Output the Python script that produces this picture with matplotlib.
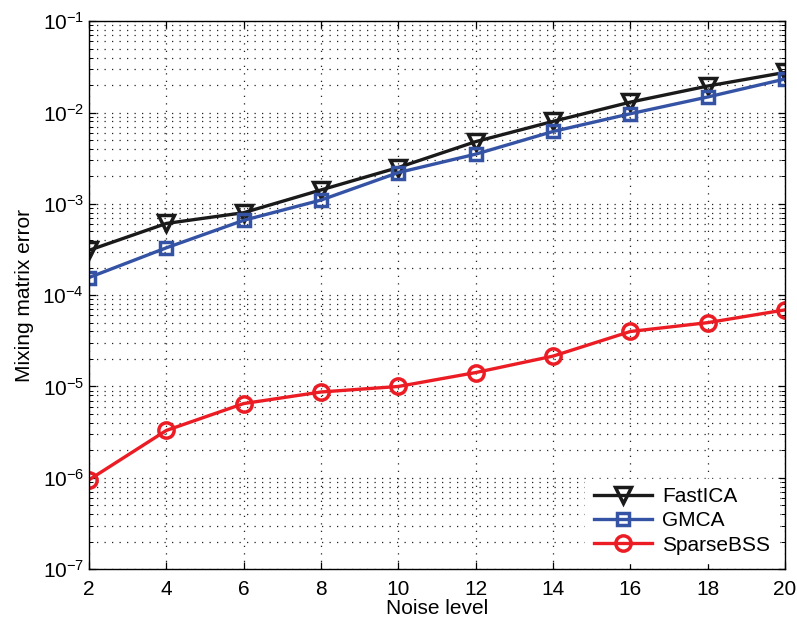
import numpy as np
import matplotlib
matplotlib.use("Agg")
import matplotlib.pyplot as plt
from matplotlib.ticker import LogLocator

plt.rcParams["font.family"] = ["Liberation Sans", "DejaVu Sans"]
plt.rcParams["mathtext.fontset"] = "custom"
plt.rcParams["mathtext.rm"] = "Liberation Sans"
plt.rcParams["mathtext.it"] = "Liberation Sans:italic"

noise_level = [2, 4, 6, 8, 10, 12, 14, 16, 18, 20]

err_fastica = [3.1e-4, 6.1e-4, 8.0e-4, 1.42e-3, 2.5e-3, 4.8e-3, 8.0e-3, 1.3e-2, 1.95e-2, 2.75e-2]
err_gmca = [1.56e-4, 3.3e-4, 6.6e-4, 1.1e-3, 2.2e-3, 3.5e-3, 6.2e-3, 9.7e-3, 1.48e-2, 2.33e-2]
err_sparsebss = [9.5e-7, 3.3e-6, 6.5e-6, 8.7e-6, 1.0e-5, 1.42e-5, 2.15e-5, 4.0e-5, 5.0e-5, 6.9e-5]

def AddCurve(ax_, y_, color_, marker_, label_, ms_=10):
    ax_.plot(noise_level, y_, color=color_, marker=marker_, markersize=ms_,
             markerfacecolor="none", markeredgecolor=color_, markeredgewidth=2.5,
             linewidth=2.4, label=label_)

fig = plt.figure(figsize=(7.97, 6.24), dpi=100)
ax = fig.add_axes([0.1117, 0.088, 0.8733, 0.878])

AddCurve(ax, err_fastica, "#1a1a1a", "v", "FastICA", 12)
AddCurve(ax, err_gmca, "#3553a4", "s", "GMCA", 9)
AddCurve(ax, err_sparsebss, "#ec1c24", "o", "SparseBSS", 11)

ax.set_yscale("log")
ax.set_xlim(2, 20)
ax.set_ylim(1e-7, 1e-1)
ax.set_xticks(noise_level)
ax.yaxis.set_major_locator(LogLocator(base=10, numticks=10))
ax.yaxis.set_minor_locator(LogLocator(base=10, subs=np.arange(2, 10), numticks=20))

# dotted grid, sparse dots
ax.grid(True, which="major", axis="both", linestyle=(0, (1, 5)), color="#222222", linewidth=0.9)
ax.grid(True, which="minor", axis="y", linestyle=(0, (1, 5)), color="#222222", linewidth=0.9)

ax.tick_params(which="both", direction="in", top=True, right=True, labelsize=15, colors="k")
ax.tick_params(which="major", length=5, width=0.9)
ax.tick_params(which="minor", length=3, width=0.7)
ax.tick_params(axis="x", pad=8)
for sp in ax.spines.values():
    sp.set_linewidth(1.0)

ax.set_xlabel("Noise level", fontsize=15, labelpad=0)
ax.set_ylabel("Mixing matrix error", fontsize=15, labelpad=6)

leg = ax.legend(loc="lower right", fontsize=15, frameon=True, fancybox=False,
                edgecolor="white", framealpha=1.0, handlelength=2.8,
                borderaxespad=0.3, labelspacing=0.25, handletextpad=0.5)

fig.savefig("out.png", dpi=100)
